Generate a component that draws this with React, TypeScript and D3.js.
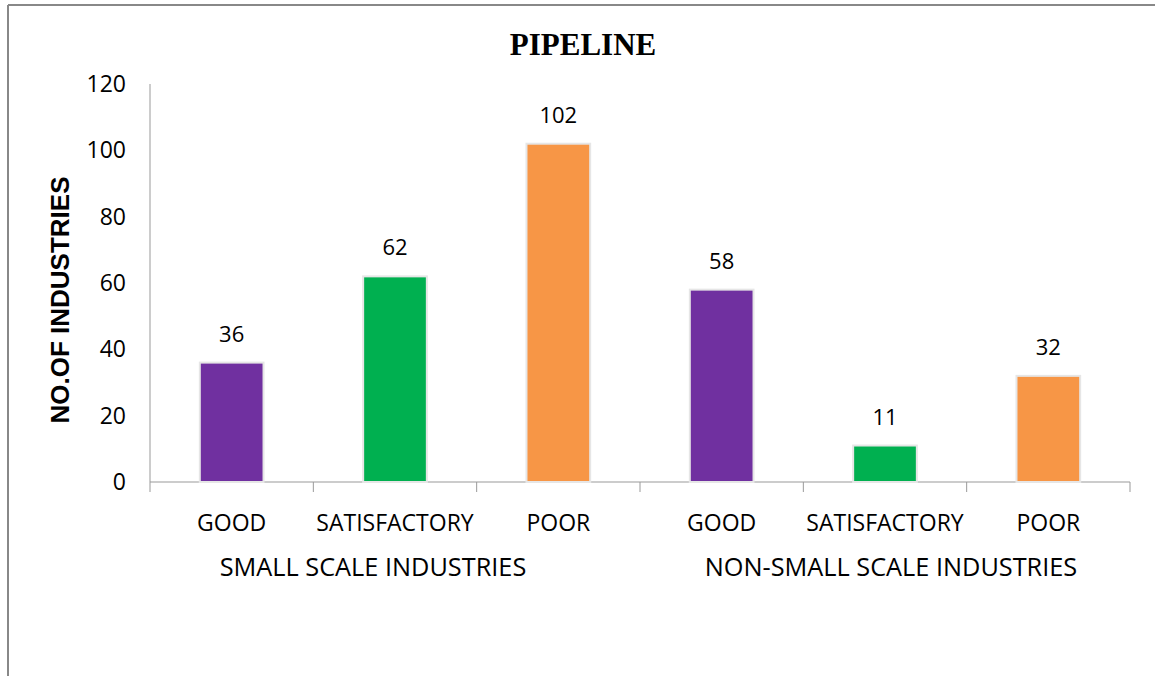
import React from "react";
import * as d3 from "d3";

const groups = ["SMALL SCALE INDUSTRIES", "NON-SMALL SCALE INDUSTRIES"];
const categories = ["GOOD", "SATISFACTORY", "POOR"];
const smallScaleValues = [36, 62, 102];
const nonSmallScaleValues = [58, 11, 32];
const yTicks = [0, 20, 40, 60, 80, 100, 120];
const colors = ["#7030A0", "#00B050", "#F79646"];

const W = 1155;
const H = 676;

export default function App() {
  const left = 150, right = 1130, top = 84, bottom = 482;
  const rows = [
    ...categories.map((c, i) => ({ key: `0-${i}`, group: 0, cat: c, ci: i, v: smallScaleValues[i] })),
    ...categories.map((c, i) => ({ key: `1-${i}`, group: 1, cat: c, ci: i, v: nonSmallScaleValues[i] })),
  ];
  const x = d3.scaleBand<string>().domain(rows.map((r) => r.key)).range([left, right]).paddingInner(0).paddingOuter(0);
  const y = d3.scaleLinear().domain([0, 120]).range([bottom, top]);
  const bw = x.bandwidth();
  const barW = bw * 0.39;
  const font = "Open Sans, Liberation Sans, sans-serif";

  return (
    <svg width={W} height={H} style={{ position: "absolute", left: 0, top: 0, background: "#fff" }}>
      <rect x={0} y={0} width={W} height={H} fill="#fff" />
      <line x1={8} y1={5} x2={W} y2={5} stroke="#888" strokeWidth={2} />
      <line x1={8} y1={5} x2={8} y2={H} stroke="#888" strokeWidth={2} />
      <text x={583} y={55} textAnchor="middle" fontFamily="Liberation Serif, serif" fontWeight="bold" fontSize={31}>PIPELINE</text>
      <text transform={`translate(69,300) rotate(-90)`} textAnchor="middle" fontFamily="Liberation Sans, Arial, sans-serif" fontWeight="bold" fontSize={26}>NO.OF INDUSTRIES</text>
      {yTicks.map((t) => (
        <text key={t} x={126} y={y(t)} dy="0.35em" textAnchor="end" fontFamily={font} fontSize={23} fill="#000">{t}</text>
      ))}
      <line x1={left} y1={top} x2={left} y2={bottom} stroke="#999" strokeWidth={1} />
      <line x1={left} y1={bottom} x2={right} y2={bottom} stroke="#999" strokeWidth={1} />
      {[...rows.map((r) => x(r.key)!), right].map((px, i) => (
        <line key={i} x1={px} y1={bottom} x2={px} y2={bottom + 10} stroke="#999" strokeWidth={1} />
      ))}
      {rows.map((r) => {
        const cx = x(r.key)! + bw / 2;
        return (
          <g key={r.key}>
            <rect x={cx - barW / 2} y={y(r.v)} width={barW} height={bottom - y(r.v)} fill={colors[r.ci]} stroke="#e6e6e6" strokeWidth={2} />
            <text x={cx} y={y(r.v) - 21} textAnchor="middle" fontFamily={font} fontSize={22}>{r.v}</text>
            <text x={cx} y={531} textAnchor="middle" fontFamily={font} fontSize={23}>{r.cat}</text>
          </g>
        );
      })}
      {groups.map((g, gi) => {
        const keys = rows.filter((r) => r.group === gi).map((r) => r.key);
        const cx = (x(keys[0])! + x(keys[keys.length - 1])! + bw) / 2;
        return (
          <text key={g} x={cx + (gi === 0 ? -22 : 6)} y={576} textAnchor="middle" fontFamily={font} fontSize={25.3}>{g}</text>
        );
      })}
    </svg>
  );
}
